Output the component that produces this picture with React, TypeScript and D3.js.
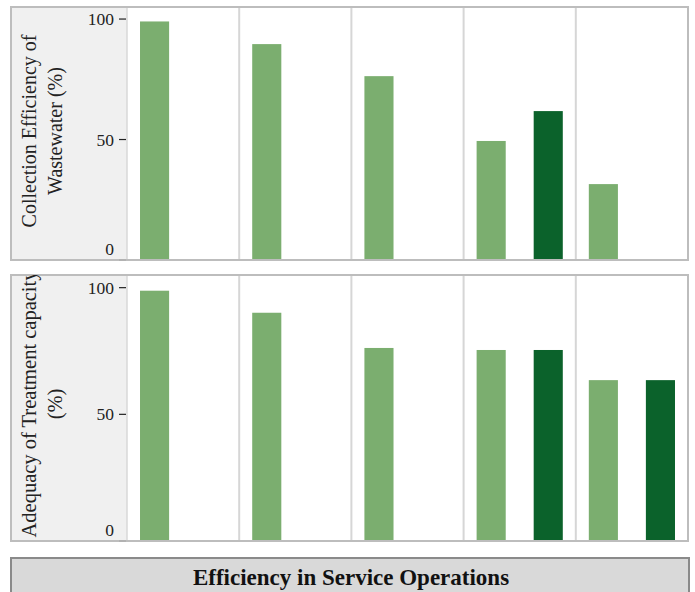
import React from "react";
import * as d3 from "d3";

const categories = ["Group 1", "Group 2", "Group 3", "Group 4", "Group 5"];
const seriesKeys = ["Baseline", "Target"];
const collectionBaseline = [99, 89.6, 76.3, 49.4, 31.5];
const collectionTarget: (number | null)[] = [null, null, null, 61.8, null];
const treatmentBaseline = [98.8, 90.1, 76.2, 75.4, 63.5];
const treatmentTarget: (number | null)[] = [null, null, null, 75.4, 63.5];
const yTicks = [0, 50, 100];
const collectionLabel = ["Collection Efficiency of", "Wastewater (%)"];
const treatmentLabel = ["Adequacy of Treatment capacity", "(%)"];
const chartTitle = "Efficiency in Service Operations";

const W = 695;
const H = 592;
const LEFT = 11;
const STRIP = 127;
const RIGHT = 688;
const LIGHT = "#7bae6f";
const DARK = "#0b622b";
const FONT = "'Liberation Serif', 'DejaVu Serif', serif";

const x0 = d3.scaleBand<string>().domain(categories).range([STRIP, RIGHT]).padding(0);
const x1 = d3
  .scaleBand<string>()
  .domain(seriesKeys)
  .range([0, x0.bandwidth()])
  .paddingInner(0.49)
  .paddingOuter(0.228);

type PanelProps = {
  id: string;
  top: number;
  bottom: number;
  baseline: (number | null)[];
  target: (number | null)[];
  label: string[];
  labelCenter: number;
  labelSize: number;
};

function Panel({ id, top, bottom, baseline, target, label, labelCenter, labelSize }: PanelProps) {
  const y = d3.scaleLinear().domain([0, 105]).range([bottom, top]);
  const dividers = categories.slice(1).map((c) => x0(c)!);
  const bars: { key: string; x: number; v: number; color: string }[] = [];
  categories.forEach((c, i) => {
    const vals = [baseline[i], target[i]];
    seriesKeys.forEach((s, j) => {
      const v = vals[j];
      if (v != null) {
        bars.push({ key: `${c}-${s}`, x: x0(c)! + x1(s)!, v, color: j === 0 ? LIGHT : DARK });
      }
    });
  });
  return (
    <g>
      <defs>
        <clipPath id={`clip-${id}`}>
          <rect x={LEFT} y={top} width={STRIP - LEFT} height={bottom - top} />
        </clipPath>
      </defs>
      <rect x={LEFT} y={top} width={STRIP - LEFT} height={bottom - top} fill="#f0f0f0" />
      <rect x={STRIP} y={top} width={RIGHT - STRIP} height={bottom - top} fill="#ffffff" />
      {dividers.map((d, i) => (
        <line key={i} x1={d} x2={d} y1={top} y2={bottom} stroke="#d6d6d6" strokeWidth={2} />
      ))}
      <line x1={STRIP} x2={STRIP} y1={top} y2={bottom} stroke="#d9d9d9" strokeWidth={1.5} />
      {bars.map((b) => (
        <rect key={b.key} x={b.x} y={y(b.v)} width={x1.bandwidth()} height={y(0) - y(b.v)} fill={b.color} />
      ))}
      <rect
        x={LEFT}
        y={top}
        width={RIGHT - LEFT}
        height={bottom - top}
        fill="none"
        stroke="#bdbdbd"
        strokeWidth={2}
      />
      {yTicks.map((t) => (
        <g key={t}>
          <line
            x1={STRIP - 8}
            x2={STRIP - 1}
            y1={y(t)}
            y2={y(t)}
            stroke={t === 0 ? "#aaaaaa" : "#222222"}
            strokeWidth={1.2}
          />
          <text
            x={STRIP - 13}
            y={t === 0 ? y(t) - 11.5 : y(t)}
            dy="0.35em"
            textAnchor="end"
            fontFamily={FONT}
            fontSize={17.5}
            fill="#222222"
          >
            {t}
          </text>
        </g>
      ))}
      <g clipPath={`url(#clip-${id})`}>
        {label.map((line, i) => (
          <text
            key={i}
            transform={`translate(${36 + i * 26},${labelCenter}) rotate(-90)`}
            textAnchor="middle"
            fontFamily={FONT}
            fontSize={labelSize}
            fill="#222222"
          >
            {line}
          </text>
        ))}
      </g>
    </g>
  );
}

export default function App() {
  return (
    <svg
      width={W}
      height={H}
      style={{ position: "absolute", left: 0, top: 0, background: "#ffffff" }}
    >
      <rect x={0} y={0} width={W} height={H} fill="#ffffff" />
      <Panel
        id="top"
        top={7}
        bottom={260}
        baseline={collectionBaseline}
        target={collectionTarget}
        label={collectionLabel}
        labelCenter={131}
        labelSize={20}
      />
      <Panel
        id="bottom"
        top={275}
        bottom={541}
        baseline={treatmentBaseline}
        target={treatmentTarget}
        label={treatmentLabel}
        labelCenter={404}
        labelSize={20.5}
      />
      <rect x={11} y={558} width={678} height={50} fill="#d9d9d9" stroke="#8a8a8a" strokeWidth={2} />
      <text
        x={351}
        y={585}
        textAnchor="middle"
        fontFamily={FONT}
        fontWeight="bold"
        fontSize={23}
        fill="#111111"
      >
        {chartTitle}
      </text>
    </svg>
  );
}
